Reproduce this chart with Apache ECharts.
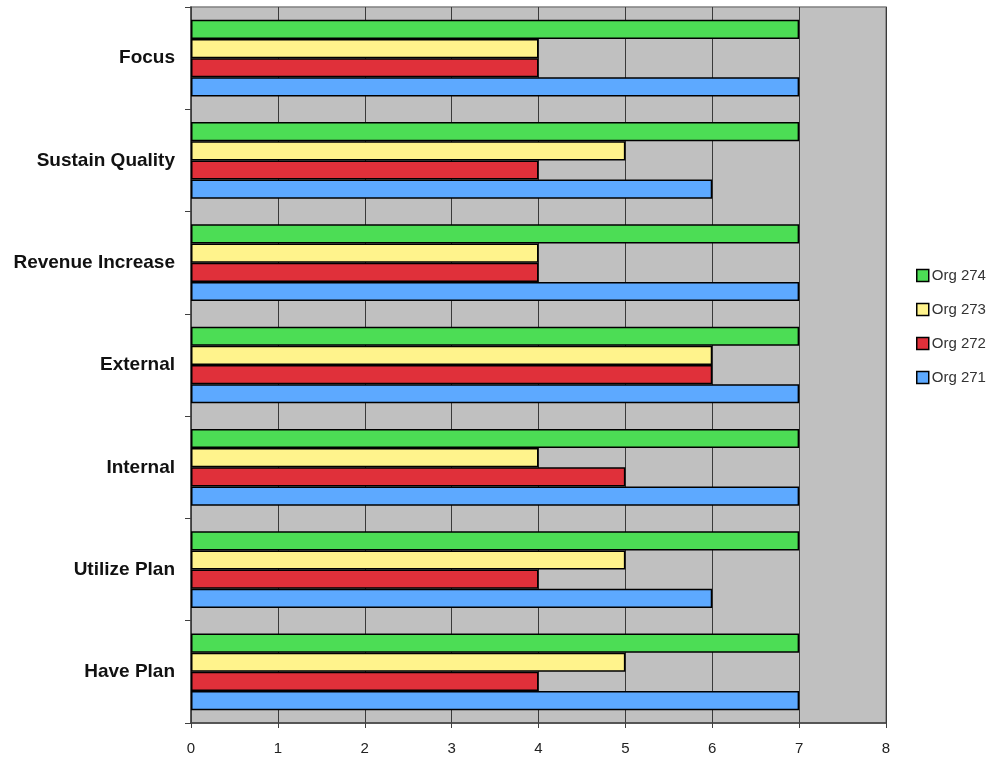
<!DOCTYPE html>
<html>
<head>
<meta charset="utf-8">
<style>
  html, body { margin: 0; padding: 0; background: #ffffff; }
  #chart { width: 997px; height: 761px; }
</style>
<script src="https://cdn.jsdelivr.net/npm/echarts@6/dist/echarts.min.js"></script>
</head>
<body>
<div id="chart"></div>
<script>
// Categories listed from the bottom of the axis to the top
const categories = ['Have Plan', 'Utilize Plan', 'Internal', 'External', 'Revenue Increase', 'Sustain Quality', 'Focus'];
const xTicks = [0, 1, 2, 3, 4, 5, 6, 7, 8];

const org271 = [7, 6, 7, 7, 7, 6, 7];
const org272 = [4, 4, 5, 6, 4, 4, 4];
const org273 = [5, 5, 4, 6, 4, 5, 4];
const org274 = [7, 7, 7, 7, 7, 7, 7];

// Within each category the first series sits on top, so Org 274 comes first
const seriesDefs = [
  { name: 'Org 274', data: org274, color: '#4CDD55' },
  { name: 'Org 273', data: org273, color: '#FFF38C' },
  { name: 'Org 272', data: org272, color: '#E0303A' },
  { name: 'Org 271', data: org271, color: '#5DA9FF' }
];

const font = 'Arial, "Liberation Sans", sans-serif';

const chart = echarts.init(document.getElementById('chart'));
chart.setOption({
  animation: false,
  backgroundColor: '#ffffff',
  textStyle: { fontFamily: font },
  grid: {
    left: 191, right: 111, top: 7, bottom: 38,
    outerBoundsMode: 'none',
    containLabel: false,
    show: true,
    backgroundColor: '#C0C0C0',
    borderColor: '#808080',
    borderWidth: 1.5
  },
  legend: {
    orient: 'vertical',
    left: 911,
    top: 263,
    itemGap: 19,
    itemWidth: 12,
    itemHeight: 12,
    icon: 'rect',
    data: ['Org 274', 'Org 273', 'Org 272', 'Org 271'],
    itemStyle: { borderColor: '#000', borderWidth: 1.5 },
    textStyle: { fontFamily: font, fontSize: 15, color: '#333', padding: [0, 0, 0, -2] }
  },
  xAxis: {
    type: 'value',
    min: xTicks[0],
    max: xTicks[xTicks.length - 1],
    interval: 1,
    axisLine: { show: true, lineStyle: { color: '#404040', width: 1.5 } },
    axisTick: { show: true, length: 5, lineStyle: { color: '#404040', width: 1 } },
    axisLabel: { fontFamily: font, fontSize: 15, color: '#222', margin: 18 },
    splitLine: { show: true, lineStyle: { color: '#3a3a3a', width: 1 } }
  },
  yAxis: {
    type: 'category',
    data: categories,
    axisLine: { show: true, lineStyle: { color: '#404040', width: 1.5 } },
    axisTick: { show: true, length: 6, lineStyle: { color: '#404040', width: 1 } },
    axisLabel: { fontFamily: font, fontSize: 19, fontWeight: 'bold', color: '#111', margin: 16 },
    splitLine: { show: false }
  },
  series: seriesDefs.map(s => ({
    name: s.name,
    type: 'bar',
    data: s.data,
    barGap: '0%',
    barCategoryGap: '25%',
    itemStyle: { color: s.color, borderColor: '#000', borderWidth: 1.5 }
  }))
});
</script>
</body>
</html>
